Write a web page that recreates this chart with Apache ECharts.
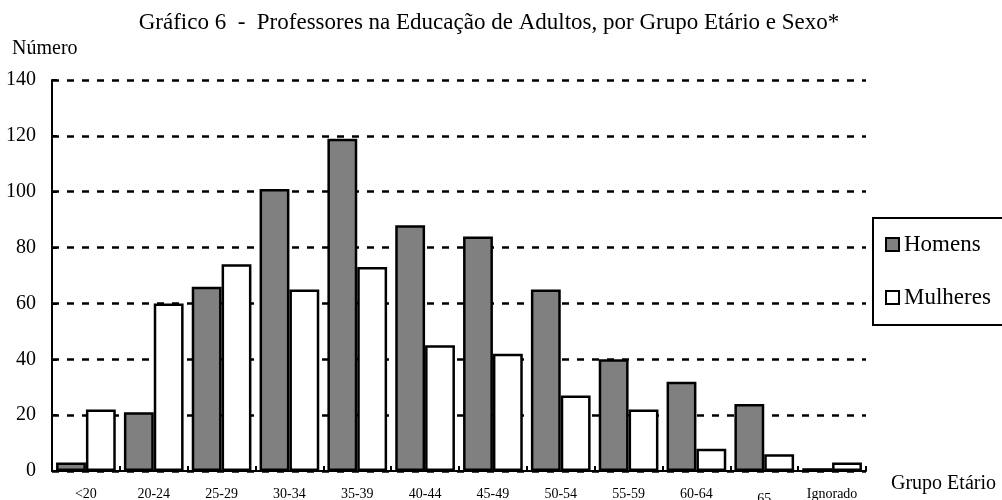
<!DOCTYPE html>
<html><head><meta charset="utf-8">
<script src="https://cdn.jsdelivr.net/npm/echarts@6/dist/echarts.min.js"></script>
<style>html,body{margin:0;padding:0;background:#fff}#c{width:1002px;height:500px}</style>
</head><body><div id="c"></div>
<script>
const categories = ['<20','20-24','25-29','30-34','35-39','40-44','45-49','50-54','55-59','60-64','65','Ignorado'];
const homens   = [3, 21, 66, 101, 119, 88, 84, 65, 40, 32, 24, 1];
const mulheres = [22, 60, 74, 65, 73, 45, 42, 27, 22, 8, 6, 3];
const yTicks = [0, 20, 40, 60, 80, 100, 120, 140];
const FONT = '"Liberation Serif","Times New Roman",serif';

const chart = echarts.init(document.getElementById('c'), null, {renderer:'canvas'});
chart.setOption({
  animation:false,
  backgroundColor:'#fff',
  title:{
    text:'Gráfico 6  -  Professores na Educação de Adultos, por Grupo Etário e Sexo*',
    left:484, top:6, textAlign:'center',
    textStyle:{fontFamily:FONT, fontSize:23, fontWeight:'normal', color:'#000'}
  },
  legend:{
    orient:'vertical', left:873, top:218,
    padding:[15,60,16,12], itemGap:30,
    borderColor:'#000', borderWidth:2,
    itemWidth:13, itemHeight:13, icon:'rect', itemStyle:{borderWidth:2, borderColor:'#000'},
    textStyle:{fontFamily:FONT, fontSize:23, color:'#000', padding:[0,0,0,0]},
    data:['Homens','Mulheres']
  },
  grid:{left:52, right:136, top:80, bottom:29, containLabel:false, outerBoundsMode:'none'},
  xAxis:{
    type:'category', data:categories,
    name:'Grupo Etário', nameLocation:'end', nameGap:25,
    nameTextStyle:{fontFamily:FONT, fontSize:20, color:'#000', verticalAlign:'top', padding:[3,0,0,0]},
    axisLine:{lineStyle:{color:'#000', width:2}},
    axisTick:{show:true, inside:true, length:5, lineStyle:{color:'#000', width:2}},
    axisLabel:{fontFamily:FONT, fontSize:14, color:'#000', margin:16, interval:0,
      formatter:function(v){ return v==='65' ? '{low|'+v+'}' : v; },
      rich:{low:{fontFamily:FONT, fontSize:14, color:'#000', padding:[5,0,0,0]}}}
  },
  yAxis:{
    type:'value', min:0, max:140, interval:20,
    name:'Número', nameLocation:'end', nameGap:21,
    nameTextStyle:{fontFamily:FONT, fontSize:20, color:'#000', align:'left', padding:[0,0,0,-40]},
    axisLine:{show:true, lineStyle:{color:'#000', width:2}},
    axisTick:{show:true, inside:true, length:5, lineStyle:{color:'#000', width:2}},
    axisLabel:{fontFamily:FONT, fontSize:20, color:'#000', margin:16,
      formatter:function(v){ return yTicks.indexOf(v)>=0 ? String(v) : ''; }},
    splitLine:{show:true, lineStyle:{color:'#000', width:2.5, type:[7,8]}}
  },
  series:[
    {name:'Homens', type:'bar', data:homens, barGap:'0%', barCategoryGap:'12%',
     itemStyle:{color:'#808080', borderColor:'#000', borderWidth:2.5}},
    {name:'Mulheres', type:'bar', data:mulheres, barGap:'0%', barCategoryGap:'12%',
     itemStyle:{color:'#fff', borderColor:'#000', borderWidth:2.5}}
  ]
});
</script></body></html>
